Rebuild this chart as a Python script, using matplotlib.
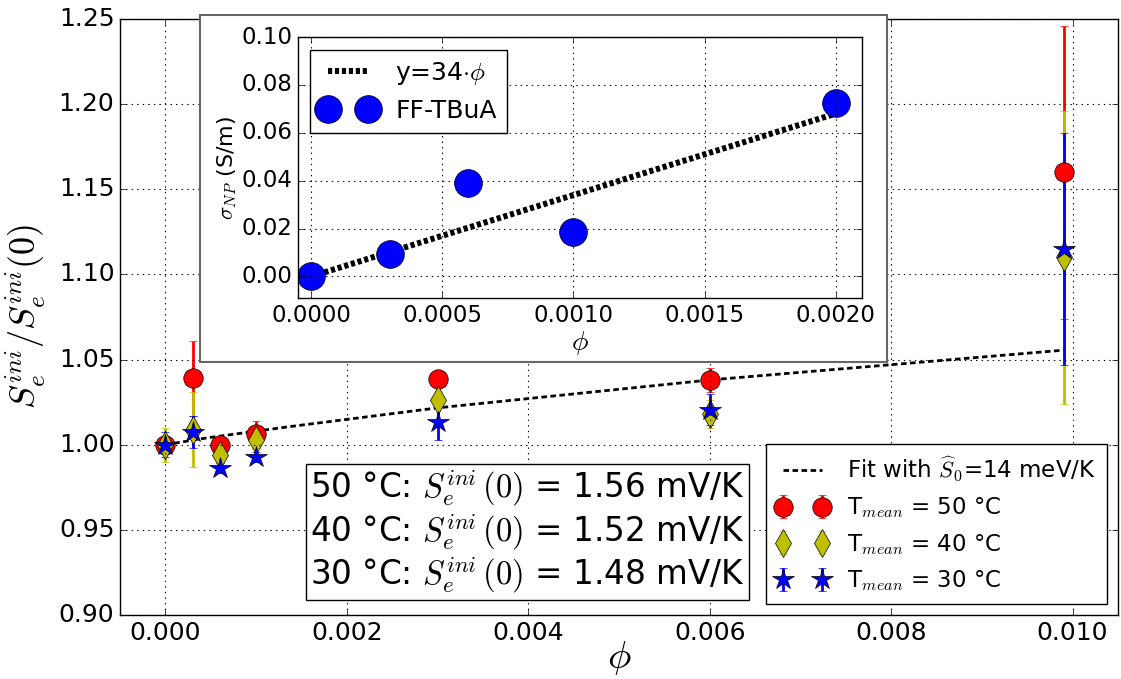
import matplotlib
matplotlib.use("Agg")
import matplotlib.pyplot as plt
from matplotlib.patches import Rectangle

# main panel data
phi = [0.0, 0.0003, 0.0006, 0.001, 0.003, 0.006, 0.0099]
s50 = [1.000, 1.039, 1.000, 1.006, 1.0386, 1.038, 1.160]
e50 = [0.005, 0.022, 0.004, 0.008, 0.002, 0.007, 0.086]
s40 = [1.000, 1.0087, 0.994, 1.0028, 1.0263, 1.018, 1.110]
e40 = [0.010, 0.022, 0.004, 0.004, 0.012, 0.008, 0.086]
s30 = [1.000, 1.0075, 0.9863, 0.9928, 1.0134, 1.0205, 1.115]
e30 = [0.0075, 0.0095, 0.003, 0.003, 0.0105, 0.009, 0.068]

fit_phi = [0.0, 0.00046, 0.00137, 0.003, 0.006, 0.0099]
fit_val = [1.000, 1.004, 1.0106, 1.0216, 1.038, 1.0555]

# inset data
phi_in = [0.0, 0.0003, 0.0006, 0.001, 0.002]
sigma_np = [0.0, 0.0095, 0.039, 0.0185, 0.0725]
lin_phi = [0.0, 0.002]
lin_val = [0.0, 0.068]

plt.style.use('classic')
plt.rcParams['figure.facecolor'] = 'white'
plt.rcParams['mathtext.fontset'] = 'cm'
plt.rcParams['font.family'] = 'DejaVu Sans'

fig = plt.figure(figsize=(11.21, 6.79), dpi=100)
ax = fig.add_axes([0.107, 0.0943, 0.8903, 0.8778])

ax.plot(fit_phi, fit_val, color='k', lw=2, dashes=(4, 2.5),
        label=r'Fit with $\widehat{S}_0$=14 meV/K')
ax.errorbar(phi, s50, yerr=e50, fmt='o', color='r', mec='k', ms=14,
            elinewidth=2, capsize=3, label=r'T$_{mean}$ = 50 °C')
ax.errorbar(phi, s40, yerr=e40, fmt='d', color='y', mfc='y', mec='k', ms=14,
            elinewidth=2, capsize=3, label=r'T$_{mean}$ = 40 °C')
ax.errorbar(phi, s30, yerr=e30, fmt='*', color='b', mec='k', ms=16,
            elinewidth=2, capsize=3, label=r'T$_{mean}$ = 30 °C')

ax.set_xlim(-0.0005, 0.0105)
ax.set_ylim(0.90, 1.25)
ax.set_xticks([0.0, 0.002, 0.004, 0.006, 0.008, 0.010])
ax.set_xticklabels(['0.000', '0.002', '0.004', '0.006', '0.008', '0.010'])
ax.set_yticks([0.90, 0.95, 1.00, 1.05, 1.10, 1.15, 1.20, 1.25])
ax.set_yticklabels(['0.90', '0.95', '1.00', '1.05', '1.10', '1.15', '1.20', '1.25'])
ax.tick_params(labelsize=18)
ax.grid(True, color='k', linestyle=':', linewidth=0.8)
ax.set_xlabel(r'$\phi$', fontsize=28, labelpad=-4)
ax.set_ylabel(r'$S_e^{ini}/S_e^{ini}(0)$', fontsize=26, labelpad=8)
ax.legend(loc='lower right', fontsize=16.5, numpoints=2, handlelength=2.3,
          borderaxespad=0.5, labelspacing=0.5, borderpad=0.45,
          handletextpad=0.8)

ax.text(0.2765, 0.123,
        "50 °C: $S_e^{ini}\\,(0)$ = 1.56 mV/K\n"
        "40 °C: $S_e^{ini}\\,(0)$ = 1.52 mV/K\n"
        "30 °C: $S_e^{ini}\\,(0)$ = 1.48 mV/K",
        transform=fig.transFigure, fontsize=23.5, ha='left', va='bottom',
        linespacing=1.1,
        bbox=dict(facecolor='white', edgecolor='k', pad=3))

# white frame behind the inset
ax.add_patch(Rectangle((200 / 1121, 1 - 362 / 679), 687 / 1121, 347 / 679,
                       transform=fig.transFigure, facecolor='white',
                       edgecolor='0.4', lw=1.5, zorder=10, clip_on=False))

ins = fig.add_axes([0.2658, 0.5611, 0.5031, 0.3844])
ins.plot(lin_phi, lin_val, color='k', lw=4.3, dashes=(3, 2),
         label=r'y=34$\cdot\phi$')
ins.plot(phi_in, sigma_np, 'o', color='b', mec='k', ms=20, label='FF-TBuA')
ins.set_xlim(-0.00005, 0.0021)
ins.set_ylim(-0.009, 0.10)
ins.set_xticks([0.0, 0.0005, 0.001, 0.0015, 0.002])
ins.set_xticklabels(['0.0000', '0.0005', '0.0010', '0.0015', '0.0020'])
ins.set_yticks([0.0, 0.02, 0.04, 0.06, 0.08, 0.10])
ins.set_yticklabels(['0.00', '0.02', '0.04', '0.06', '0.08', '0.10'])
ins.tick_params(labelsize=16.5)
ins.grid(True, color='k', linestyle=':', linewidth=0.8)
ins.set_xlabel(r'$\phi$', fontsize=20, labelpad=2)
ins.set_ylabel(r'$\sigma_{NP}$ (S/m)', fontsize=16, labelpad=2)
ins.legend(loc='upper left', fontsize=18, numpoints=2, handlelength=2.2)

fig.savefig('out.png', dpi=100, facecolor='white')
